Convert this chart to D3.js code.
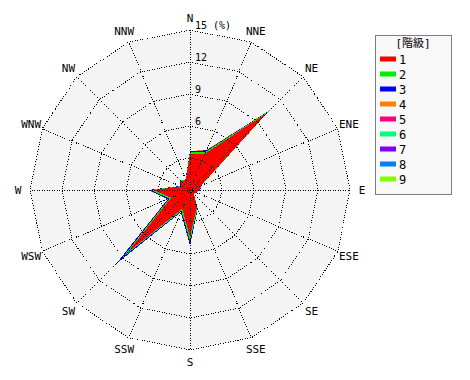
<!DOCTYPE html>
<html>
<head>
<meta charset="utf-8">
<script src="https://cdn.jsdelivr.net/npm/d3@7"></script>
<style>
  body { margin: 0; background: #fff; }
  text { font-family: "DejaVu Sans Mono", "Noto Sans CJK JP", monospace; fill: #000; }
</style>
</head>
<body>
<script>
// directions, clockwise from north
const directions = ["N","NNE","NE","ENE","E","ESE","SE","SSE","S","SSW","SW","WSW","W","WNW","NW","NNW"];
const classes = ["1","2","3","4","5","6","7","8","9"];
const colors = ["#ff0000","#00ee00","#0000ff","#ff8000","#ff0080","#00ff80","#8000ff","#0080ff","#80ff00"];
const ticks = [0, 3, 6, 9, 12, 15];

// frequency (%) per class, one value per direction
const class1 = [3.4, 3.7, 10.2, 1.1, 0.9, 0.6, 0.5, 1.7, 4.4, 1.9, 8.3, 1.9, 3.4, 0.9, 1.2, 1.0];
const class2 = [0.15, 0.2, 0.25, 0.05, 0.05, 0.03, 0.03, 0.15, 0.4, 0.2, 0.7, 0.2, 0.3, 0.05, 0.05, 0.05];
const class3 = [0.1, 0.12, 0.1, 0.03, 0.02, 0.02, 0.02, 0.05, 0.4, 0.15, 0.8, 0.15, 0.2, 0.03, 0.03, 0.03];
const class4 = [0.01, 0.05, 0.05, 0, 0, 0, 0, 0.01, 0.02, 0.01, 0.05, 0.01, 0.02, 0, 0, 0];
const class5 = [0, 0, 0.01, 0, 0, 0, 0, 0, 0, 0, 0.01, 0, 0, 0, 0, 0];
const class6 = [0, 0, 0, 0, 0, 0, 0, 0, 0, 0, 0, 0, 0, 0, 0, 0];
const class7 = [0, 0, 0, 0, 0, 0, 0, 0, 0, 0, 0, 0, 0, 0, 0, 0];
const class8 = [0, 0, 0, 0, 0, 0, 0, 0, 0, 0, 0, 0, 0, 0, 0, 0];
const class9 = [0, 0, 0, 0, 0, 0, 0, 0, 0, 0, 0, 0, 0, 0, 0, 0];
const series = [class1, class2, class3, class4, class5, class6, class7, class8, class9];

const width = 470, height = 380;
const cx = 190, cy = 190, R = 160;

const svg = d3.select("body").append("svg")
    .attr("width", width)
    .attr("height", height);

const g = svg.append("g").attr("transform", `translate(${cx},${cy})`);

const angle = d3.scaleLinear().domain([0, directions.length]).range([0, 2 * Math.PI]);
const r = d3.scaleLinear().domain([0, 15]).range([0, R]);

const ringLine = d3.lineRadial()
    .angle((d, i) => angle(i))
    .radius(d => r(d))
    .curve(d3.curveLinearClosed);

// plot area background
g.append("path")
    .attr("d", ringLine(directions.map(() => 15)))
    .attr("fill", "#f4f4f4");

// stacked layers (cumulative), outermost first so class 1 ends on top
const table = directions.map((d, i) => {
  const row = {dir: d};
  classes.forEach((c, k) => row[c] = series[k][i]);
  return row;
});
const stacked = d3.stack().keys(classes)(table);

const layer = d3.lineRadial()
    .angle((d, i) => angle(i))
    .radius(d => r(d[1]))
    .curve(d3.curveLinearClosed);

g.selectAll(".layer")
  .data(stacked.slice().reverse())
  .enter()
  .append("path")
    .attr("class", "layer")
    .attr("d", d => layer(d))
    .attr("fill", d => colors[d.index])
    .attr("shape-rendering", "crispEdges");

// grid rings
g.selectAll(".ring")
  .data(ticks.slice(1))
  .enter()
  .append("path")
    .attr("class", "ring")
    .attr("d", t => ringLine(directions.map(() => t)))
    .attr("fill", "none")
    .attr("stroke", "#000")
    .attr("stroke-width", 1)
    .attr("stroke-dasharray", "1,1.5")
    .attr("shape-rendering", "crispEdges");

// spokes
g.selectAll(".spoke")
  .data(directions)
  .enter()
  .append("line")
    .attr("class", "spoke")
    .attr("x1", 0).attr("y1", 0)
    .attr("x2", (d, i) => r(15) * Math.sin(angle(i)))
    .attr("y2", (d, i) => -r(15) * Math.cos(angle(i)))
    .attr("stroke", "#000")
    .attr("stroke-width", 1)
    .attr("stroke-dasharray", "1,1.5")
    .attr("shape-rendering", "crispEdges");

// radial tick labels
g.selectAll(".tick")
  .data(ticks.slice(2))
  .enter()
  .append("text")
    .attr("class", "tick")
    .attr("x", 5)
    .attr("y", t => -r(t) - 1)
    .style("font-size", "10px")
    .text(t => t === 15 ? t + " (%)" : t);

// direction labels
g.selectAll(".dir")
  .data(directions)
  .enter()
  .append("text")
    .attr("class", "dir")
    .attr("x", (d, i) => (R + 12) * Math.sin(angle(i)))
    .attr("y", (d, i) => -(R + 12) * Math.cos(angle(i)))
    .attr("dy", "0.35em")
    .attr("text-anchor", "middle")
    .style("font-size", "11px")
    .text(d => d);

// legend
const legend = svg.append("g").attr("transform", "translate(375,35)");

legend.append("rect")
    .attr("x", 0.5).attr("y", 0.5)
    .attr("width", 76).attr("height", 159)
    .attr("fill", "#f8f8f8")
    .attr("stroke", "#000")
    .attr("stroke-dasharray", "1,1");

legend.append("text")
    .attr("x", 38).attr("y", 12)
    .attr("text-anchor", "middle")
    .style("font-size", "11px")
    .text("[階級]");

const item = legend.selectAll(".item")
  .data(classes)
  .enter()
  .append("g")
    .attr("class", "item")
    .attr("transform", (d, i) => `translate(5,${24 + i * 15})`);

item.append("rect")
    .attr("y", -2.5)
    .attr("width", 16)
    .attr("height", 5)
    .attr("fill", (d, i) => colors[i]);

item.append("text")
    .attr("x", 19)
    .attr("dy", "0.38em")
    .style("font-size", "12px")
    .text(d => d);
</script>
</body>
</html>
